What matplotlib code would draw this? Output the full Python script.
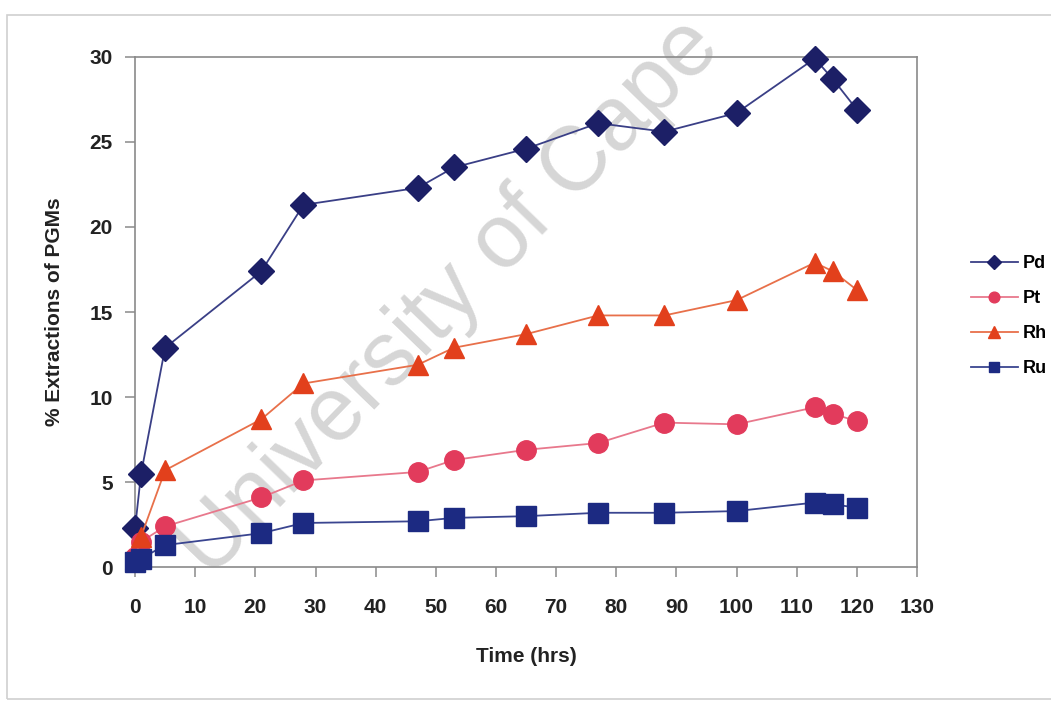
import matplotlib
matplotlib.use("Agg")
import matplotlib.pyplot as plt
from matplotlib.patches import Rectangle

plt.rcParams["font.family"] = ["Liberation Sans", "DejaVu Sans"]

# sampling times (hrs)
time_h = [0, 1, 5, 21, 28, 47, 53, 65, 77, 88, 100, 113, 116, 120]

# % extraction per metal
pd_vals = [2.3, 5.5, 12.9, 17.4, 21.3, 22.3, 23.5, 24.6, 26.1, 25.6, 26.7, 29.9, 28.7, 26.9]
pt_vals = [0.6, 1.5, 2.4, 4.1, 5.1, 5.6, 6.3, 6.9, 7.3, 8.5, 8.4, 9.4, 9.0, 8.6]
rh_vals = [0.5, 1.8, 5.7, 8.7, 10.8, 11.9, 12.9, 13.7, 14.8, 14.8, 15.7, 17.9, 17.4, 16.3]
ru_vals = [0.3, 0.5, 1.3, 2.0, 2.6, 2.7, 2.9, 3.0, 3.2, 3.2, 3.3, 3.8, 3.7, 3.5]

series = [
    ("Pd", pd_vals, "D", "#1c1f66", "#3a3f86", 13),
    ("Pt", pt_vals, "o", "#e23b5c", "#e8788c", 14),
    ("Rh", rh_vals, "^", "#e2401c", "#e8704a", 15),
    ("Ru", ru_vals, "s", "#1c2a82", "#3a4590", 14),
]

fig = plt.figure(figsize=(10.51, 7.02), dpi=100)
ax = fig.add_axes([0.1285, 0.192, 0.744, 0.727])

# faded watermark behind the data
fig.text(0.428, 0.575, "University of Cape", fontsize=65, color="#d6d6d6",
         rotation=46, ha="center", va="center", zorder=-1)
ax.patch.set_alpha(0)

for name, vals, mk, mcol, lcol, ms in series:
    ax.plot(time_h, vals, color=lcol, lw=1.3, marker=mk, ms=ms,
            mfc=mcol, mec=mcol, label=name, clip_on=False, zorder=3)

ax.set_xlim(0, 130)
ax.set_ylim(0, 30)
ax.set_xticks(range(0, 131, 10))
ax.set_yticks(range(0, 31, 5))
for s in ax.spines.values():
    s.set_color("#8a8a8a")
    s.set_linewidth(1.2)
ax.tick_params(axis="both", colors="#8a8a8a", labelcolor="#222222",
               labelsize=15, length=7, width=1.1)
ax.tick_params(axis="y", pad=9)
ax.tick_params(axis="x", pad=15)
for lab in ax.get_xticklabels() + ax.get_yticklabels():
    lab.set_fontweight("bold")
ax.set_xlabel("Time (hrs)", fontsize=15, fontweight="bold", color="#222222", labelpad=22)
ax.set_ylabel("% Extractions of PGMs", fontsize=15, fontweight="bold", color="#222222", labelpad=18)

fig.legend(loc="upper left", bbox_to_anchor=(0.908, 0.66), frameon=False,
           prop={"size": 13, "weight": "bold"}, handlelength=2.6, markerscale=0.55,
           labelspacing=1.0, handletextpad=0.3)

# chart area border (right side runs off the cropped image)
fig.patches.append(Rectangle((0.007, 0.004), 1.2, 0.974, transform=fig.transFigure,
                             fill=False, ec="#d0d0d0", lw=1.2))

fig.savefig("out.png", dpi=100, facecolor="white")
